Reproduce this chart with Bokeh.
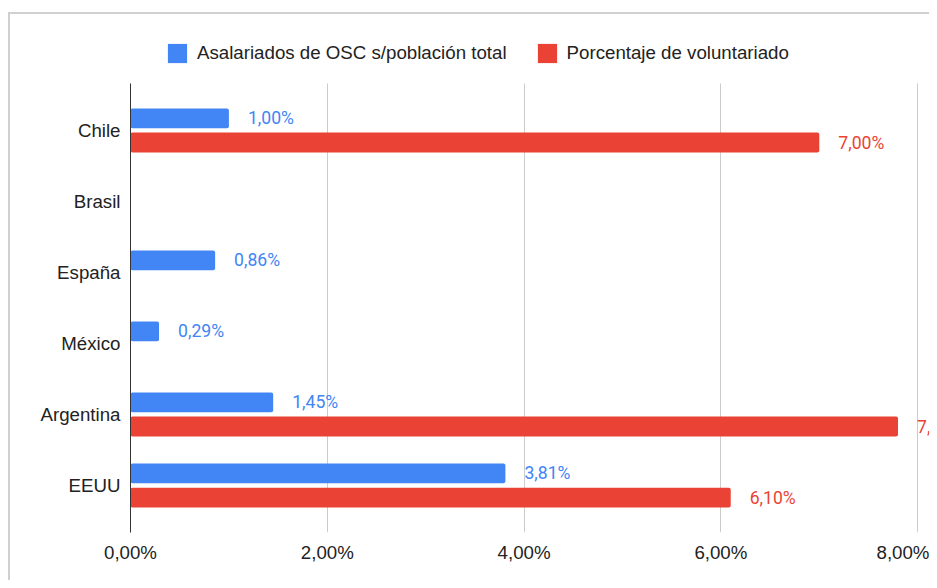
from bokeh.plotting import figure
from bokeh.models import ColumnDataSource, Range1d, Legend, LegendItem, FixedTicker
from bokeh.transform import dodge
from bokeh.embed import file_html
from bokeh.resources import INLINE
from bokeh.core.properties import value

countries = ["Chile", "Brasil", "España", "México", "Argentina", "EEUU"]
asalariados = [1.00, None, 0.86, 0.29, 1.45, 3.81]
voluntariado = [7.00, None, None, None, 7.80, 6.10]
series_names = ["Asalariados de OSC s/población total", "Porcentaje de voluntariado"]
series_colors = ["#4285f4", "#ea4335"]
x_ticks = [0, 2, 4, 6, 8]
x_tick_labels = ["0,00%", "2,00%", "4,00%", "6,00%", "8,00%"]

n = len(countries)
# category slot: first category at the top
slot = {c: n - 1 - i for i, c in enumerate(countries)}


def fmt(v):
    return f"{v:.2f}".replace(".", ",") + "%"


def make_source(vals):
    c = [k for k, v in zip(countries, vals) if v is not None]
    v = [v for v in vals if v is not None]
    return ColumnDataSource(dict(country=c, pos=[slot[k] for k in c], value=v,
                                 label=[fmt(x) for x in v]))


pad = 0.162
y_lo, y_hi = -0.5 - pad, n - 0.5 + pad
p = figure(
    width=929, height=580,
    y_range=Range1d(y_lo, y_hi + 0.746),
    x_range=Range1d(0, 8.12),
    output_backend="svg", toolbar_location=None,
    min_border_left=130, min_border_right=0, min_border_top=30, min_border_bottom=48,
)
p.border_fill_color = None
p.outline_line_color = None
p.styles = {"box-shadow": "inset 8px 12px 0 0 #ffffff, inset 10px 14px 0 0 #d0d0d0"}

offsets = [0.17, -0.17]
items = []
for vals, name, col, off in zip([asalariados, voluntariado], series_names, series_colors, offsets):
    src = make_source(vals)
    r = p.hbar(y=dodge("pos", off), left=0, right="value", height=0.28,
               source=src, fill_color=col, line_color=None, border_radius=2)
    p.text(x="value", y=dodge("pos", off), text="label", source=src,
           x_offset=19, text_baseline="middle", text_align="left",
           text_font=value("Roboto"), text_font_size="17.6px", text_color=col)
    items.append(LegendItem(label=name, renderers=[r]))

legend = Legend(items=items, orientation="horizontal", location=(35, 467),
                glyph_width=24, glyph_height=24, label_standoff=8, spacing=28,
                padding=0, margin=0, border_line_color=None, background_fill_alpha=0,
                label_text_font="Liberation Sans", label_text_font_size="18.7px",
                label_text_color="#222222")
p.add_layout(legend)

p.xaxis.ticker = FixedTicker(ticks=x_ticks)
p.xaxis.major_label_overrides = {t: l for t, l in zip(x_ticks, x_tick_labels)}
p.xaxis.axis_line_color = None
p.xaxis.major_tick_line_color = None
p.xaxis.minor_tick_line_color = None
p.xaxis.major_tick_out = 0
p.xaxis.major_tick_in = 0
p.xaxis.minor_tick_out = 0
p.xaxis.major_label_standoff = 9
p.xaxis.major_label_text_font = "Liberation Sans"
p.xaxis.major_label_text_font_size = "18.7px"
p.xaxis.major_label_text_color = "#222222"

p.yaxis.ticker = FixedTicker(ticks=[slot[c] for c in countries])
p.yaxis.major_label_overrides = {slot[c]: c for c in countries}
p.yaxis.bounds = (y_lo, y_hi)
p.yaxis.axis_line_color = "#333333"
p.yaxis.major_tick_line_color = None
p.yaxis.minor_tick_line_color = None
p.yaxis.major_tick_out = 0
p.yaxis.major_tick_in = 0
p.yaxis.minor_tick_out = 0
p.yaxis.major_label_standoff = 10
p.yaxis.major_label_text_font = "Liberation Sans"
p.yaxis.major_label_text_font_size = "18.7px"
p.yaxis.major_label_text_color = "#222222"

p.xgrid.grid_line_color = "#cccccc"
p.xgrid.cross_bounds = (y_lo, y_hi)
p.ygrid.grid_line_color = None

open("out.html", "w").write(file_html(p, INLINE))
